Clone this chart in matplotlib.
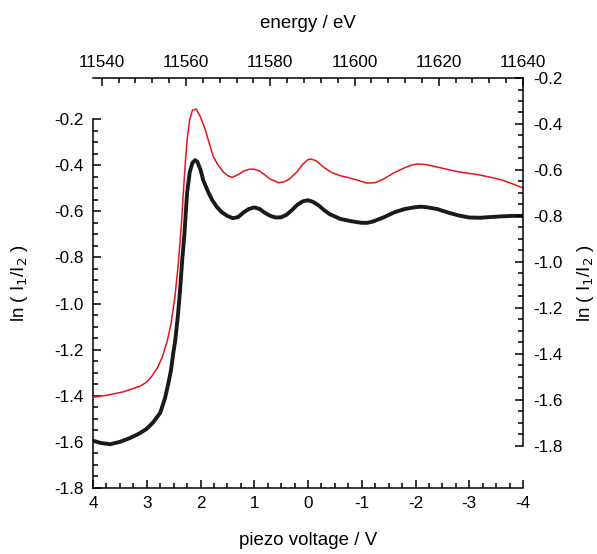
import matplotlib
matplotlib.use("Agg")
from matplotlib import pyplot as plt
from matplotlib.ticker import MultipleLocator, FixedLocator, FormatStrFormatter
import numpy as np

plt.rcParams['font.family'] = ['Liberation Sans', 'DejaVu Sans']
plt.rcParams['axes.unicode_minus'] = False

# black trace, read against the left axis
volt_black = [4.0, 3.85, 3.68, 3.5, 3.31, 3.15, 3.0, 2.88, 2.75, 2.66, 2.6, 2.55, 2.51, 2.47,
              2.42, 2.38, 2.34, 2.3, 2.25, 2.2, 2.15, 2.1, 2.06, 2.0, 1.95, 1.85, 1.78, 1.7,
              1.6, 1.5, 1.4, 1.3, 1.2, 1.1, 1.0, 0.9, 0.8, 0.7, 0.6, 0.5, 0.4, 0.3, 0.2, 0.1,
              0.0, -0.1, -0.2, -0.3, -0.4, -0.6, -0.8, -1.0, -1.1, -1.2, -1.4, -1.6, -1.8,
              -2.0, -2.1, -2.2, -2.4, -2.6, -2.8, -3.0, -3.2, -3.4, -3.6, -3.8, -4.0]
ln_black = [-1.595, -1.605, -1.61, -1.60, -1.583, -1.565, -1.543, -1.515, -1.474, -1.41,
            -1.348, -1.29, -1.22, -1.16, -1.05, -0.94, -0.81, -0.70, -0.52, -0.43, -0.39,
            -0.378, -0.385, -0.42, -0.465, -0.52, -0.552, -0.58, -0.605, -0.62, -0.63,
            -0.625, -0.605, -0.59, -0.583, -0.59, -0.607, -0.62, -0.627, -0.626, -0.615,
            -0.595, -0.572, -0.557, -0.552, -0.56, -0.575, -0.595, -0.612, -0.633, -0.643,
            -0.65, -0.65, -0.645, -0.627, -0.605, -0.59, -0.582, -0.58, -0.582, -0.59,
            -0.605, -0.618, -0.627, -0.628, -0.625, -0.622, -0.62, -0.62]

# red trace, read against the right axis
volt_red = [4.0, 3.75, 3.44, 3.12, 3.0, 2.9, 2.8, 2.71, 2.62, 2.55, 2.48, 2.41, 2.36, 2.32,
            2.28, 2.25, 2.2, 2.15, 2.08, 2.0, 1.91, 1.83, 1.76, 1.67, 1.57, 1.49, 1.41, 1.3,
            1.2, 1.1, 1.01, 0.9, 0.8, 0.7, 0.55, 0.45, 0.35, 0.2, 0.1, 0.0, -0.05, -0.15,
            -0.3, -0.45, -0.6, -0.75, -0.9, -1.1, -1.25, -1.4, -1.6, -1.8, -1.95, -2.05,
            -2.2, -2.4, -2.6, -2.8, -3.0, -3.2, -3.4, -3.6, -3.8, -4.0]
ln_red = [-1.588, -1.58, -1.565, -1.54, -1.522, -1.495, -1.46, -1.413, -1.345, -1.27, -1.16,
          -1.0, -0.85, -0.7, -0.56, -0.47, -0.38, -0.34, -0.335, -0.37, -0.426, -0.49,
          -0.543, -0.58, -0.61, -0.625, -0.632, -0.62, -0.605, -0.597, -0.596, -0.605,
          -0.622, -0.64, -0.655, -0.652, -0.64, -0.607, -0.575, -0.555, -0.552, -0.56,
          -0.59, -0.612, -0.625, -0.633, -0.643, -0.657, -0.655, -0.64, -0.612, -0.59,
          -0.577, -0.574, -0.577, -0.587, -0.598, -0.608, -0.615, -0.622, -0.632, -0.643,
          -0.66, -0.678]

ln_ticks = [-1.8, -1.6, -1.4, -1.2, -1.0, -0.8, -0.6, -0.4, -0.2]
energy_ticks = [11540, 11560, 11580, 11600, 11620, 11640]

fig = plt.figure(figsize=(5.97, 5.54), dpi=100)
ax = fig.add_axes([0.1558, 0.1191, 0.7203, 0.7401])
ax_r = ax.twinx()
ax_t = ax.twiny()

for a in (ax, ax_r, ax_t):
    for s in a.spines.values():
        s.set_visible(False)
        s.set_linewidth(1.1)

ax.spines['left'].set_visible(True)
ax.spines['bottom'].set_visible(True)
ax_r.spines['right'].set_visible(True)
ax_t.spines['top'].set_visible(True)

ax.plot(volt_black, ln_black, color='#1a1a1a', lw=2.8)
ax_r.plot(volt_red, ln_red, color='#e8141c', lw=1.1)

ax.set_xlim(4, -4)
ax.set_ylim(-1.8, -0.022)
ax.spines['left'].set_bounds(-1.8, -0.2)
ax_r.set_ylim(-1.983, -0.2)
ax_r.spines['right'].set_bounds(-1.8, -0.2)
ax_t.set_xlim(11537.93, 11640)

minor_ln = np.linspace(-1.8, -0.2, 33)

ax.xaxis.set_major_locator(MultipleLocator(1))
ax.xaxis.set_minor_locator(MultipleLocator(0.25))
ax.set_yticks(ln_ticks)
ax.yaxis.set_minor_locator(FixedLocator(minor_ln))
ax.yaxis.set_major_formatter(FormatStrFormatter('%.1f'))
ax_r.set_yticks(ln_ticks)
ax_r.yaxis.set_minor_locator(FixedLocator(minor_ln))
ax_r.yaxis.set_major_formatter(FormatStrFormatter('%.1f'))
ax_t.set_xticks(energy_ticks)
ax_t.xaxis.set_minor_locator(FixedLocator(np.arange(11540, 11641, 4)))

fs_tick = 12.3
ax.tick_params(which='both', direction='in', width=1.1, labelsize=fs_tick,
               left=True, bottom=True, top=False, right=False)
ax.tick_params(which='major', length=6)
ax.tick_params(which='minor', length=3.5)
ax.tick_params(axis='x', pad=6)
ax.tick_params(axis='y', pad=7)
ax_r.tick_params(which='both', direction='in', width=1.1, labelsize=fs_tick,
                 right=True, left=False, pad=7)
ax_r.tick_params(which='major', length=6)
ax_r.tick_params(which='minor', length=3.5)
ax_t.tick_params(which='both', direction='in', width=1.1, labelsize=fs_tick,
                 top=True, bottom=False, pad=6)
ax_t.tick_params(which='major', length=6)
ax_t.tick_params(which='minor', length=3.5)

ax.set_xlabel('piezo voltage / V', fontsize=13.5, labelpad=15)
ax_t.set_xlabel('energy / eV', fontsize=13.5, labelpad=19)
ax.set_ylabel('ln ( I$_1$/I$_2$ )', fontsize=13.5, labelpad=17)
ax_r.set_ylabel('ln ( I$_1$/I$_2$ )', fontsize=13.5, labelpad=9)

fig.savefig('out.png', dpi=100)
